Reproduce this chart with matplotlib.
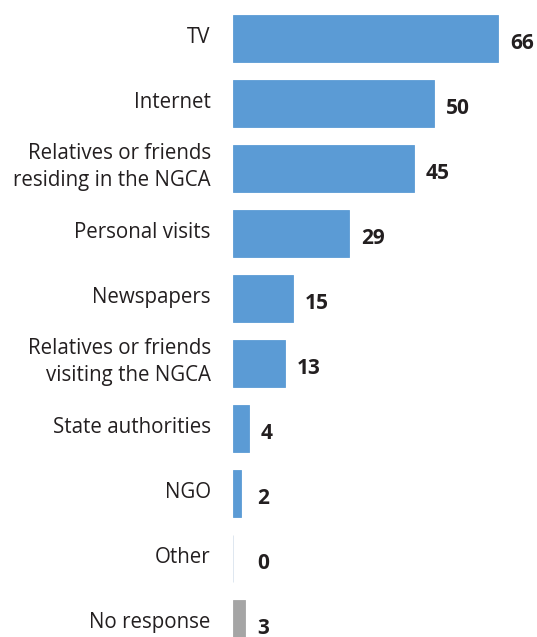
import numpy as np
import matplotlib.pyplot as plt

categories = ["TV", "Internet", "Relatives or friends\nresiding in the NGCA",
              "Personal visits", "Newspapers",
              "Relatives or friends\nvisiting the NGCA", "State authorities",
              "NGO", "Other", "No response"]
values = [66, 50, 45, 29, 15, 13, 4, 2, 0, 3]

blue = "#5b9bd5"
grey = "#a5a5a5"
text_color = "#231f20"

plt.rcParams['font.family'] = ['Open Sans', 'DejaVu Sans']

fig = plt.figure(figsize=(5.37, 6.37), dpi=100)
ax = fig.add_axes([233 / 537, 0, 301 / 537, 631.2 / 637])

y = np.arange(len(values))
colors = [blue] * (len(values) - 1) + [grey]
# the zero bar still shows as a faint hairline on the axis
edges = [blue if v > 0 else "#d9e3ee" for v in values[:-1]] + [grey]
ax.barh(y, values, height=0.718, color=colors, edgecolor=edges, linewidth=0.6)

ax.set_xlim(0, 75)
ax.set_ylim(9.21, -0.5)
ax.axis('off')

for i, (cat, v) in enumerate(zip(categories, values)):
    ax.annotate(cat, xy=(0, i), xycoords=ax.get_yaxis_transform(),
                xytext=(-16, 0.7), textcoords='offset points',
                ha='right', va='center', fontsize=14.8, color=text_color,
                linespacing=1.39)
    ax.annotate(str(v), xy=(max(v + 3, 6), i), xytext=(0, -3.6),
                textcoords='offset points', ha='left', va='center',
                fontsize=15, fontweight='bold', color=text_color)

fig.savefig("out.png", dpi=100)
